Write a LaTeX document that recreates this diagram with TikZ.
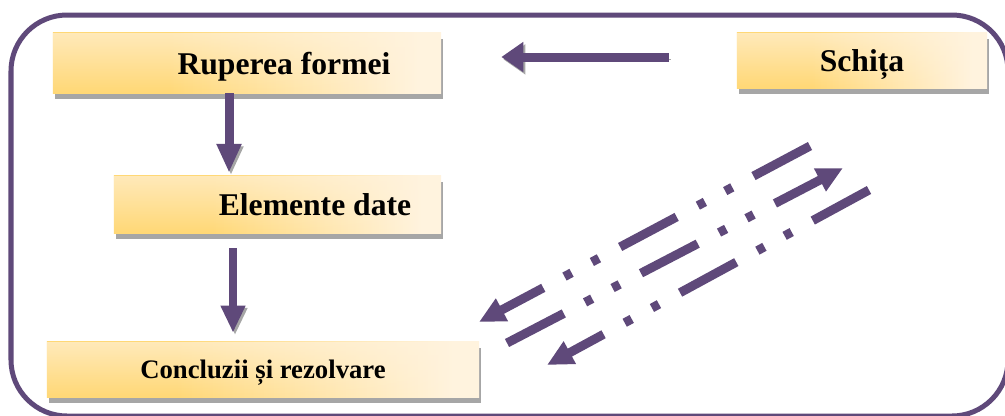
\documentclass[tikz,border=0pt]{standalone}
\usepackage{fontspec}
\setmainfont{Liberation Serif}
\usetikzlibrary{arrows.meta,shadows,fadings}

\definecolor{framepurple}{RGB}{95,73,122}
\definecolor{boxdark}{RGB}{255,216,118}
\definecolor{boxlight}{RGB}{255,243,222}
\definecolor{shadowgray}{RGB}{166,166,166}

\pgfdeclarehorizontalshading{boxshade}{100bp}{color(0bp)=(boxdark); color(40bp)=(boxdark); color(72bp)=(boxlight); color(100bp)=(boxlight)}

\tikzset{
	stepbox/.style={shading=boxshade, shading angle=0,
		drop shadow={shadow xshift=0.04cm, shadow yshift=-0.14cm, fill=shadowgray, opacity=1},
		postaction={fill=boxlight, path fading=south, fill opacity=0.65},
		inner sep=0pt, text depth=0pt, font=\bfseries\fontsize{22.5}{26}\selectfont},
	blockarrow/.style={draw=framepurple, line width=0.225cm,
		-{Triangle[length=0.72cm, width=0.58cm]},
		preaction={draw=shadowgray, transform canvas={xshift=0.05cm, yshift=-0.06cm}}},
	dasharrow/.style={draw=framepurple, line width=0.225cm,
		dash pattern=on 1.6cm off 0.6cm on 0.2cm off 0.575cm on 0.2cm off 0.6cm,
		-{Triangle[length=0.65cm, width=0.6cm]}},
	frame/.style={draw=framepurple, line width=0.125cm, rounded corners=1.4cm}
}

\begin{document}
\begin{tikzpicture}[x=0.025cm, y=-0.025cm]
	\useasboundingbox (0,0) rectangle (1005,415);
	
	\draw[frame] (11,15) rectangle (1008,416);
	
	% boxes
	\node[stepbox, minimum width=9.7cm, minimum height=1.5cm] (ruperea) at (247,63) {\hspace*{1.85cm}Ruperea formei};
	\node[stepbox, minimum width=6.25cm, minimum height=1.375cm] (schita) at (862,60.5) {Schița};
	\node[stepbox, minimum width=8.175cm, minimum height=1.425cm] (elemente) at (277.5,204.5) {\hspace*{1.875cm}Elemente date};
	\node[stepbox, minimum width=10.8cm, minimum height=1.375cm, font=\bfseries\fontsize{19}{23}\selectfont] (concluzii) at (263,369.5) {Concluzii și rezolvare};
	
	% block arrows
	\coordinate (la) at (0,57);
	\coordinate (d1) at (229,0);
	\coordinate (d2) at (233,0);
	\draw[blockarrow, -{Triangle[length=0.55cm, width=0.72cm]}, shorten <=1.7cm, shorten >=1.5cm] (schita.west |- la) -- (ruperea.east |- la);
	\draw[blockarrow, shorten >=0.075cm] (ruperea.south -| d1) -- (elemente.north -| d1);
	\draw[blockarrow, line width=0.2cm, -{Triangle[length=0.68cm, width=0.58cm]}, shorten <=0.375cm, shorten >=0.225cm] (elemente.south -| d2) -- (concluzii.north -| d2);
	
	% dash-dot arrows
	\coordinate (a1) at (810,146);
	\coordinate (a2) at (479,322);
	\coordinate (b1) at (507,343);
	\coordinate (b2) at (843,168);
	\coordinate (c1) at (869,190);
	\coordinate (c2) at (547,365);
	\draw[dasharrow] (a1) -- (a2);
	\draw[dasharrow] (b1) -- (b2);
	\draw[dasharrow] (c1) -- (c2);
\end{tikzpicture}
\end{document}
